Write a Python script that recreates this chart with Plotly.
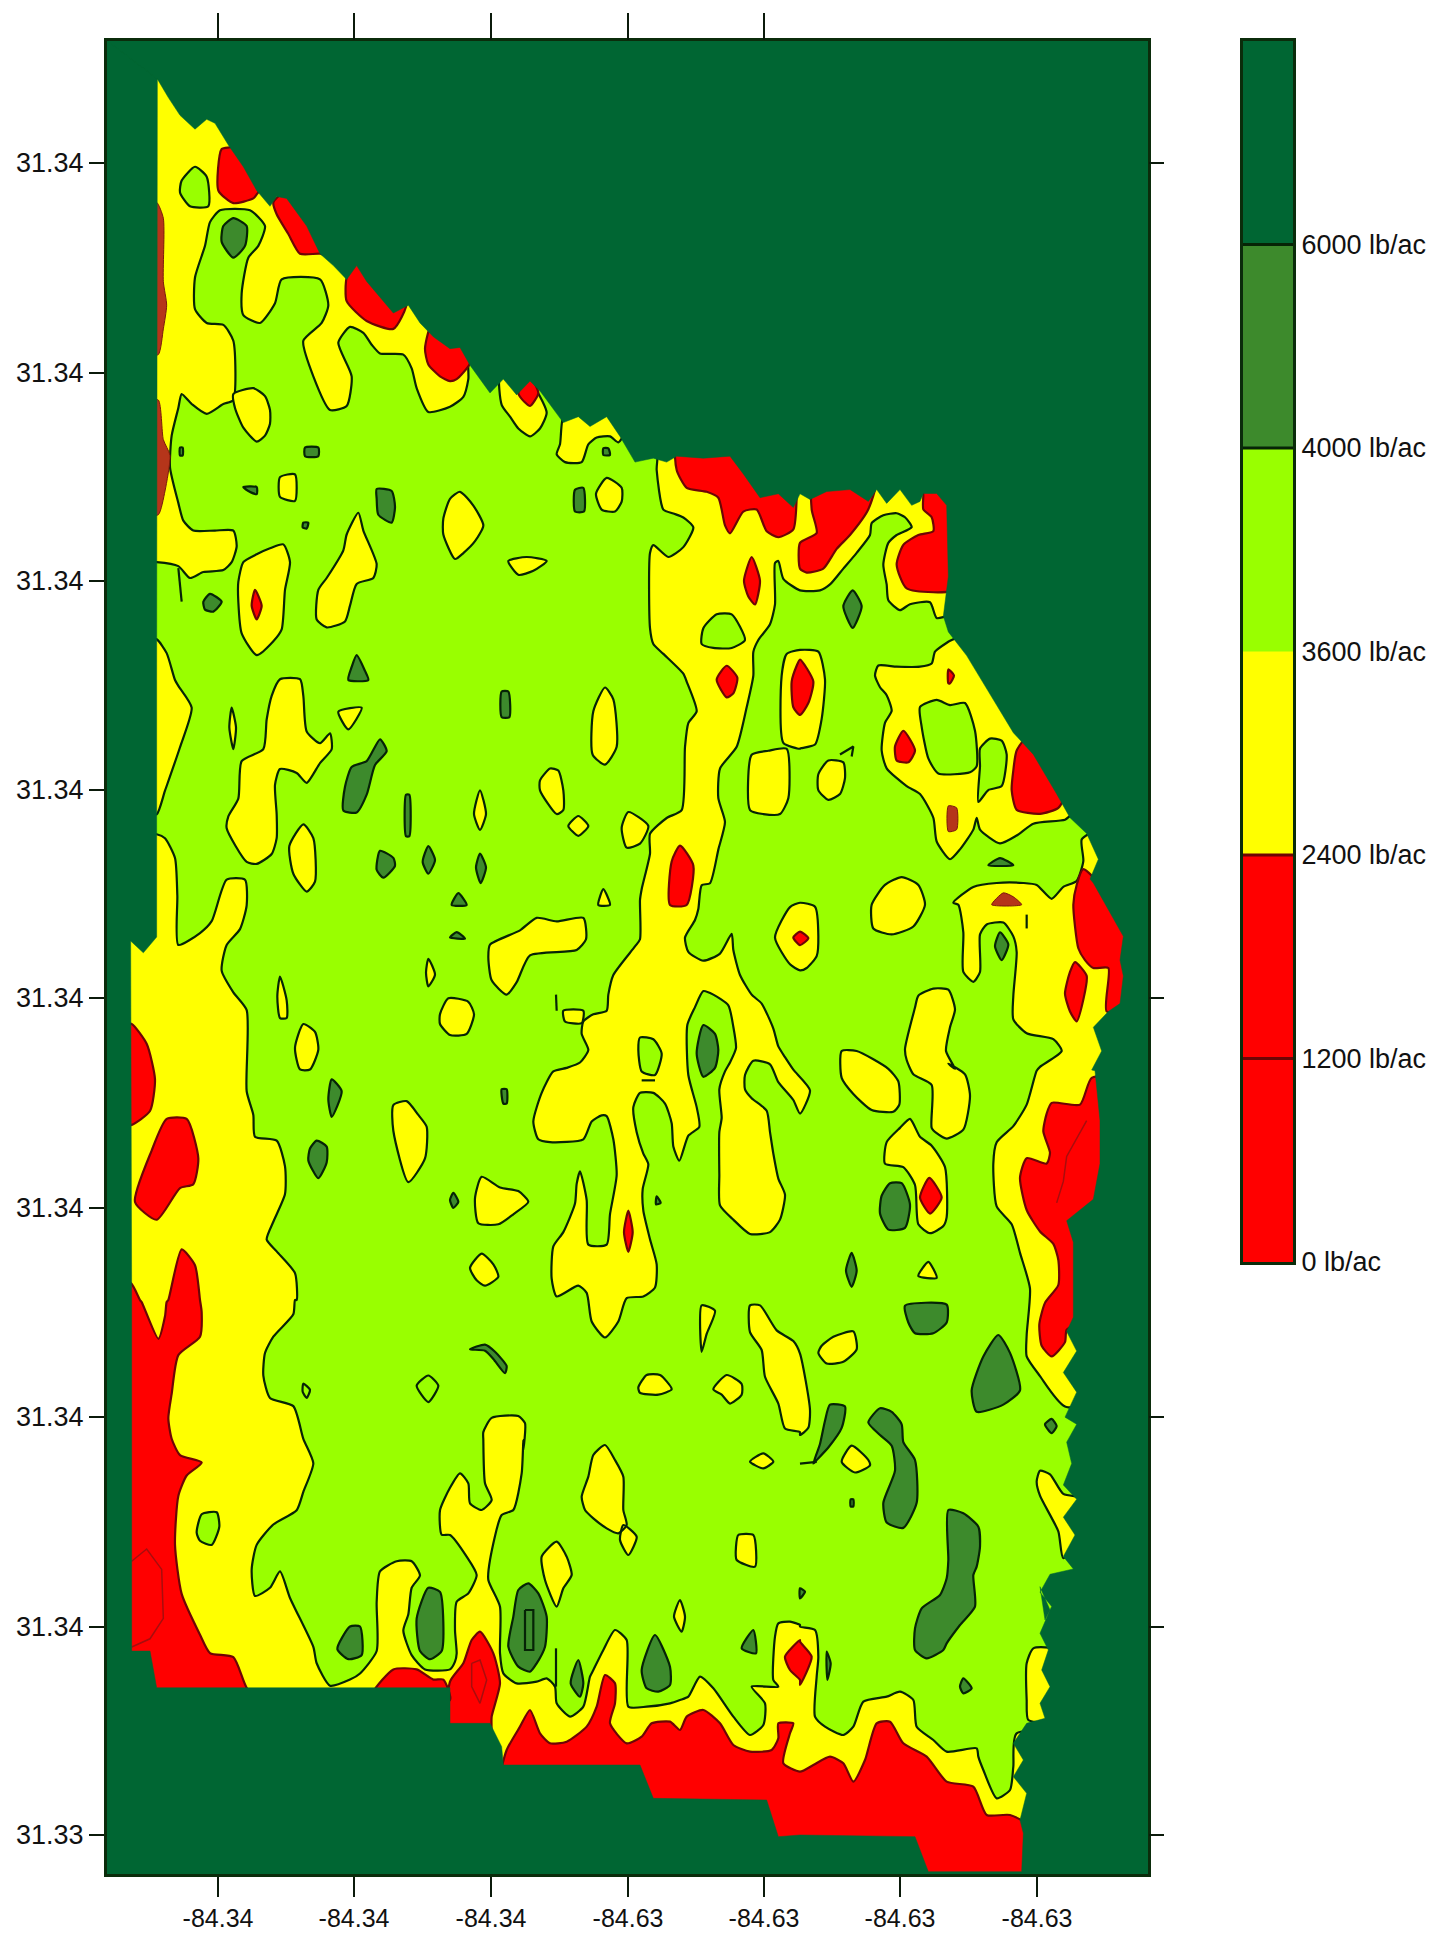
import plotly.graph_objects as go

# Digitising sheets of the map: origin and sheet units per map unit
SHEETS = {
    "A": (100, 60, 3, 2.529), "B": (450, 300, 3, 2.529), "C": (800, 450, 3, 2.529),
    "D": (100, 680, 3, 2.529), "E": (450, 900, 3, 2.8), "F": (800, 1060, 3, 2.8),
    "G": (100, 1300, 3, 2.45), "H": (450, 1440, 3, 3), "I": (800, 1500, 3, 3),
}

x_tick_vals = [218, 354, 491, 628, 764, 900, 1037]
x_tick_text = ["-84.34", "-84.34", "-84.34", "-84.63", "-84.63", "-84.63", "-84.63"]
top_tick_vals = [218, 354, 491, 628, 764]
y_tick_vals = [163, 373, 581, 790, 998, 1208, 1417, 1627, 1835]
y_tick_text = ["31.34"] * 8 + ["31.33"]
right_tick_vals = [163, 998, 1417, 1627, 1835]

legend_labels = ["0 lb/ac", "1200 lb/ac", "2400 lb/ac", "3600 lb/ac", "4000 lb/ac", "6000 lb/ac"]
legend_colors = ["#ff0000", "#ff0000", "#ffff00", "#99ff00", "#3d8a2c", "#006633"]

field_outline = [
    ("A", [(172,48),(205,95),(240,140),(285,175),(320,150),(345,160),(385,215),(430,270),(470,330),(510,370),(530,345),(560,350),(620,420),(660,490),(700,520),(740,555),(770,520),(800,560),(880,640),(925,620),(960,665),(1000,700),(1050,730)]),
    ("B", [(30,120),(60,165),(120,235),(160,200),(200,240),(240,205),(270,230),(340,310),(385,295),(420,320),(470,295),(510,345),(555,410),(610,400),(650,410),(680,395),(760,400),(840,395),(880,440),(930,500),(985,490),(1030,525),(1050,490)]),
    ("C", [(30,125),(80,105),(150,100),(205,130),(230,100),(260,135),(300,100),(335,140),(360,130),(370,110),(410,110),(440,140),(445,320),(430,420),(445,460),(500,520),(640,715),(700,770),(770,870),(810,930),(860,970),(895,1035),(870,1085),(880,1095),(970,1230),(960,1290),(970,1330),(960,1400),(925,1420),(880,1460),(905,1520),(875,1568)]),
    ("F", [(885,30),(900,170),(900,290),(880,390),(800,450),(820,510),(820,590),(820,720),(800,760),(830,815),(790,875),(830,930),(795,1000),(830,1020),(800,1070),(815,1130),(790,1190),(830,1230),(790,1280),(825,1330),(790,1390),(820,1425),(750,1440),(720,1490),(755,1530),(735,1568)]),
    ("I", [(720,260),(750,330),(720,400),(745,450),(725,510),(750,560),(720,610),(735,655),(680,670),(640,730),(670,780),(640,830),(680,880),(660,960),(670,1000),(665,1115),(385,1115),(345,1010),(0,1005)]),
    ("H", [(985,1190),(950,1080),(610,1075),(570,975),(160,975),(155,920),(120,850),(0,850)]),
    ("G", [(1050,950),(170,950),(150,860),(95,860),(95,0)]),
    ("D", [(92,660),(130,690),(170,650),(170,0)]),
]

green_main = [
    ("A", [(400,860),(370,870),(320,895),(275,870),(245,845),(235,880),(215,950),(210,1030),(235,1120),(250,1165),(280,1190),(345,1190),(400,1190),(410,1230),(395,1270),(370,1290),(310,1295),(270,1310),(235,1280),(170,1270),(130,1270),(130,1460),(170,1465),(200,1500),(225,1568)]),
    ("D", [(235,15),(275,70),(240,170),(195,280),(170,340),(140,340),(140,390),(170,390),(195,400),(225,450),(232,545),(235,670),(300,640),(335,610),(380,505),(435,505),(440,570),(420,630),(380,670),(365,735),(400,790),(440,835),(440,1040),(460,1100),(465,1155),(530,1165),(555,1230),(555,1300),(520,1370),(500,1415),(530,1445),(585,1500),(590,1568)]),
    ("G", [(585,0),(580,35),(520,90),(495,130),(490,185),(510,240),(580,260),(610,340),(640,400),(610,470),(590,515),(520,550),(470,600),(455,660),(465,725),(510,705),(540,665),(570,730),(640,850),(650,890),(690,945),(750,930),(780,915),(830,860),(830,740),(840,665),(890,640),(935,640),(960,675),(935,705),(925,770),(910,810),(935,870),(975,905),(1050,905)]),
    ("H", [(15,665),(20,640),(15,570),(20,485),(55,460),(80,405),(50,350),(0,285)]),
    ("G", [(1025,575),(1020,515),(1050,460)]),
    ("H", [(30,100),(55,130),(60,190),(95,210),(125,180),(105,130),(100,0)]),
    ("E", [(100,1490),(125,1450),(205,1445),(225,1465),(220,1540)]),
    ("H", [(220,0),(215,100),(190,210),(155,225),(120,360),(115,420),(150,500),(150,640),(160,700),(200,730),(260,725),(290,715),(315,740),(320,790),(360,830),(400,800),(420,710),(430,690),(460,630),(495,570),(530,600),(535,800),(590,800),(660,790),(690,780),(715,770),(750,710),(790,745),(850,830),(900,885),(940,855),(945,790),(905,740),(985,740),(970,720),(975,590),(985,550),(1020,545),(1050,555)]),
    ("I", [(0,380),(45,390),(55,470),(50,530),(45,650),(75,680),(130,705),(160,680),(190,605),(260,590),(300,575),(340,600),(350,680),(400,720),(440,755),(530,745),(535,770),(550,810),(590,895),(630,870),(640,800),(650,700),(1100,700)]),
    ("F", [(1100,970),(795,970),(720,885),(680,830),(680,770),(690,640),(660,540),(635,460),(590,410),(580,290),(590,230),(640,185),(680,125),(710,30)]),
    ("C", [(720,1560),(785,1520),(760,1490),(680,1475),(640,1440),(640,1380),(650,1270),(640,1230),(610,1195),(560,1200),(540,1225),(540,1320),(520,1345),(490,1320),(490,1220),(475,1150),(460,1145),(520,1105),(590,1095),(670,1095),(710,1100),(755,1135),(790,1105),(830,1090),(850,1040),(845,985),(880,960),(820,920),(795,935),(700,945),(650,975),(600,995),(540,960),(530,930),(520,960),(480,1010),(450,1035),(410,990),(400,930),(360,870),(320,850),(260,805),(245,760),(255,690),(275,660),(260,620),(240,600),(225,570),(235,545),(290,548),(360,548),(395,540),(405,510),(445,485),(475,470),(450,420),(410,425),(390,385),(330,390),(300,405),(265,380),(260,340),(250,290),(265,235),(290,215),(335,195),(315,170),(290,160),(250,165),(215,185),(210,215),(170,260),(130,300),(90,340),(60,355),(0,355)]),
    ("B", [(1000,705),(985,660),(975,665),(975,770),(960,820),(925,860),(910,890),(910,950),(890,1030),(860,1130),(810,1185),(805,1260),(825,1320),(805,1390),(780,1475),(755,1480),(745,1540),(735,1568)]),
    ("E", [(705,105),(715,145),(760,170),(810,150),(845,95),(850,140),(870,210),(905,265),(935,290),(970,360),(985,410),(1005,440),(1030,475)]),
    ("F", [(30,85),(0,150)]),
    ("E", [(1030,560),(985,510),(960,460),(910,450),(885,490),(885,530),(905,555),(950,590),(960,650),(970,710),(985,780),(1005,825),(990,895),(960,930),(900,935),(850,895),(810,855),(808,770),(808,650),(815,610),(808,530),(825,480),(840,455),(858,415),(850,355),(835,295),(790,265),(760,255),(735,300),(712,350),(715,490),(740,580),(748,635),(715,660),(688,730),(670,690),(665,625),(645,570),(610,540),(570,540),(550,580),(560,650),(580,710),(595,740),(578,810),(580,870),(600,950),(620,1020),(615,1085),(580,1110),(530,1115),(505,1180),(465,1225),(425,1180),(410,1100),(385,1080),(320,1110),(305,1060),(310,970),(340,930),(375,850),(380,795),(390,760),(410,840),(415,965),(470,965),(480,880),(500,770),(490,670),(470,605),(455,603),(425,620),(400,670),(300,678),(265,670),(250,620),(275,540),(310,480),(350,470),(390,455),(415,420),(395,375),(400,340),(430,320),(470,310),(475,265),(490,210),(555,130),(570,110),(570,0)]),
    ("B", [(575,1490),(600,1400),(600,1350),(650,1310),(695,1290),(705,1130),(715,1070),(740,1040),(710,965),(700,945),(640,895),(610,870),(600,830),(600,640),(610,620),(655,650),(700,625),(730,575),(700,550),(670,540),(640,530),(620,430),(620,370),(300,170),(60,130),(55,200),(40,245),(0,270)]),
    ("A", [(985,890),(950,830),(935,780),(910,745),(840,742),(815,720),(790,690),(750,675),(715,715),(755,800),(740,875),(690,885),(640,800),(610,710),(665,665),(685,620),(660,555),(545,555),(525,615),(480,665),(430,645),(425,590),(445,500),(475,470),(495,420),(450,380),(360,380),(330,410),(315,470),(285,550),(285,630),(320,665),(370,670),(400,710)]),
]

yellow_islands = [
    [("A", [(400,845),(460,830),(495,850),(510,885),(510,920),(495,950),(470,965),(430,930),(405,880)])],
    [("A", [(540,1055),(585,1048),(585,1115),(540,1105)])],
    [("A", [(430,1270),(470,1250),(510,1235),(550,1225),(570,1270),(555,1340),(545,1440),(520,1470),(470,1505),(425,1450),(415,1370),(415,1320)])],
    [("A", [(740,1200),(775,1145),(790,1190),(830,1275),(820,1310),(770,1325),(750,1380),(735,1420),(680,1435),(650,1415),(655,1340),(680,1310),(730,1240)])],
    [("D", [(515,40),(540,-2),(600,-2),(610,40),(620,130),(660,160),(690,135),(695,175),(660,210),(620,260),(590,235),(540,225),(525,265),(530,340),(530,400),(515,440),(470,465),(440,460),(380,375),(385,345),(415,300),(425,205),(490,175),(500,100)])],
    [("D", [(715,80),(785,70),(745,125)])],
    [("D", [(395,70),(408,120),(400,175),(388,120)])],
    [("D", [(610,365),(640,400),(645,510),(620,535),(580,490),(568,420)])],
    [("D", [(985,705),(1005,745),(985,775),(978,740)])],
    [("D", [(1020,845),(1045,805)]), ("E", [(55,285),(72,320),(50,375),(0,378)]), ("D", [(1020,870)])],
    [("D", [(540,750),(560,810),(560,855),(540,855),(532,800)])],
    [("D", [(610,870),(645,890),(655,935),(630,985),(600,985),(585,930)])],
    [("D", [(880,1075),(920,1065),(955,1100),(980,1130),(975,1210),(925,1270),(880,1140)])],
    [("B", [(155,265),(180,295),(205,325),(240,345),(270,325),(290,285),(260,230),(205,180),(150,190)])],
    [("B", [(345,280),(330,365),(320,390),(345,410),(395,410),(415,365),(440,348),(480,345),(505,360),(520,340),(470,280)])],
    [("B", [(470,450),(515,475),(515,510),(495,535),(455,530),(438,490)])],
    [("A", [(1030,1160),(1050,1110)]), ("B", [(30,485),(70,520),(100,570),(75,610),(40,640),(15,655)]), ("A", [(1030,1200)])],
    [("B", [(175,660),(230,650),(290,660),(250,685),(205,695)])],
    [("B", [(465,980),(490,1010),(500,1130),(465,1175),(428,1150),(430,1040)])],
    [("B", [(300,1185),(325,1190),(340,1240),(340,1290),(320,1300),(270,1240),(270,1215)])],
    [("B", [(90,1240),(108,1300),(90,1340),(72,1300)])],
    [("B", [(385,1305),(415,1330),(385,1355),(355,1330)])],
    [("B", [(535,1295),(595,1330),(570,1375),(530,1385),(515,1335)])],
    [("B", [(460,1490),(480,1530),(445,1530)])],
    [("B", [(995,950),(1010,895),(1050,885)]), ("C", [(55,510),(75,580),(65,680),(45,745),(0,755)]), ("B", [(1050,1135),(1000,1120)])],
    [("B", [(905,1150),(955,1140),(1010,1135),(1015,1260),(990,1300),(940,1300),(900,1290)])],
    [("C", [(85,785),(130,790),(135,830),(120,870),(85,885),(55,860),(55,820)])],
    [("C", [(215,1150),(255,1100),(305,1080),(355,1100),(375,1150),(340,1205),(275,1225),(220,1210)])],
    [("E", [(1020,20),(975,105),(1020,180),(1050,197)]), ("C", [(20,1310),(50,1280),(55,1230),(45,1155),(0,1145)])],
    [("C", [(355,1380),(400,1362),(445,1365),(465,1415),(450,1460),(438,1520),(465,1565)]), ("F", [(445,10),(495,40),(510,100),(490,195),(440,220),(410,205),(395,190),(395,70),(340,40),(320,0)]), ("C", [(315,1515),(345,1410)])],
    [("C", [(125,1520),(170,1520),(265,1565)]), ("F", [(295,60),(298,125),(280,145),(215,140),(160,95),(125,50)])],
    [("F", [(330,165),(360,215),(395,240),(435,300),(440,440),(430,465),(390,485),(355,460),(345,350),(310,300),(255,290),(260,230),(300,190)])],
    [("F", [(385,565),(410,610),(355,605)])],
    [("F", [(65,800),(100,775),(160,760),(170,810),(130,845),(80,850),(55,820)])],
    [("F", [(125,1125),(155,1080),(205,1120),(210,1135),(165,1155)])],
    [("F", [(720,1150),(750,1160),(790,1215),(860,1230),(860,1330),(790,1395),(775,1320),(720,1220),(710,1180)])],
    [("I", [(700,445),(770,450),(770,660),(685,660),(680,600),(680,490)])],
    [("H", [(465,15),(495,60),(520,110),(520,210),(530,255),(505,280),(470,265),(430,235),(405,210),(395,170),(415,110),(430,45)])],
    [("H", [(520,255),(560,290),(535,345),(510,300)])],
    [("H", [(320,305),(350,350),(365,405),(340,445),(320,500),(285,420),(275,350)])],
    [("H", [(690,480),(705,530),(695,575),(672,530)])],
    [("H", [(865,285),(910,285),(915,380),(860,360),(858,320)])],
    [("H", [(900,65),(940,40),(970,65),(940,85)])],
    [("E", [(75,835),(95,775),(150,805),(205,815),(235,845),(190,880),(145,908),(85,905)])],
    [("E", [(60,1030),(95,990),(130,1020),(145,1055),(105,1080),(80,1065)])],
    [("E", [(565,1365),(590,1330),(630,1330),(665,1370),(625,1385),(570,1380)])],
    [("E", [(790,1370),(830,1330),(875,1355),(875,1385),(840,1410),(815,1385)])],
    [("E", [(755,1135),(795,1150),(770,1215),(755,1265)])],
    [("E", [(900,1135),(930,1135),(980,1205),(1030,1235),(1050,1270)]), ("F", [(30,980),(25,1030),(0,1050)]), ("E", [(1050,1490),(1005,1480),(985,1410),(945,1335),(935,1260),(900,1210)])],
    [("E", [(120,125),(210,85),(260,50),(320,60),(400,50),(408,110),(380,140),(240,155),(200,230),(170,265),(125,225),(115,160)])],
    [("E", [(340,310),(400,310),(395,345),(345,340)])],
]

green_holes = [
    [("A", [(285,270),(320,295),(325,370),(270,370),(240,335),(245,305)])],
    [("B", [(760,830),(800,795),(845,795),(885,860),(845,880),(790,880),(755,870)])],
    [("C", [(360,650),(410,632),(450,645),(495,640),(525,710),(530,800),(510,815),(415,818),(385,780),(365,700)])],
    [("C", [(540,755),(570,730),(605,735),(620,770),(605,850),(565,860),(535,890),(540,800)])],
    [("E", [(570,385),(610,390),(635,430),(615,490),(575,480),(565,420)])],
    [("G", [(305,525),(350,520),(358,555),(335,600),(300,590),(290,570)])],
    [("G", [(610,205),(630,220),(620,240),(608,225)])],
    [("G", [(950,210),(985,185),(1015,210),(985,250)])],
]

red_areas = [
    [("A", [(365,225),(395,220),(440,200),(500,300),(470,340),(460,350),(400,362),(355,330)])],
    [("A", [(520,360),(545,340),(640,400),(700,500),(660,490),(600,490),(565,440),(530,390)])],
    [("A", [(740,550),(775,500),(920,610),(880,680),(800,660),(740,610)])],
    [("A", [(975,730),(1000,660)]), ("B", [(60,110),(60,160),(20,200),(0,205)]), ("A", [(1020,800),(985,770)])],
    [("B", [(205,235),(235,190),(265,235),(240,268),(215,250)])],
    [("A", [(465,1340),(485,1380),(470,1415),(455,1380)])],
    [("B", [(680,430),(710,475),(770,485),(805,500),(825,570),(840,590),(880,535),(920,530),(950,585),(985,600),(1030,580),(1040,500),(1040,440),(680,370)])],
    [("B", [(905,650),(930,710),(915,770),(895,750),(882,710)])],
    [("B", [(830,925),(862,955),(850,995),(830,1005),(800,960)])],
    [("B", [(690,1380),(730,1430),(710,1530),(660,1530),(665,1420)])],
    [("C", [(0,530),(40,585),(25,640),(0,670)]), ("B", [(1030,1030),(1025,965),(1040,925)])],
    [("C", [(0,235),(50,210),(35,150),(40,60),(230,60),(205,150),(150,215),(110,250),(70,300),(20,310),(0,300)])],
    [("C", [(370,115),(370,80),(480,80),(480,350),(320,350),(290,290),(310,240),(355,215),(400,205),(395,170),(370,150)])],
    [("C", [(650,760),(690,720),(800,860),(775,905),(720,920),(650,910),(635,860),(640,810)])],
    [("C", [(310,710),(345,760),(325,790),(290,785),(285,750)])],
    [("C", [(445,555),(462,570),(450,590),(445,590)])],
    [("C", [(0,1218),(25,1235),(0,1252)]), ("E", [(1030,105)])],
    [("C", [(830,1100),(850,1060),(1010,1230),(1010,1400),(920,1420),(925,1310),(880,1310),(855,1290),(835,1260),(820,1150)])],
    [("C", [(825,1295),(860,1330),(850,1390),(830,1445),(810,1420),(795,1375),(810,1320)])],
    [("F", [(755,120),(840,125),(875,50),(960,50),(960,290),(920,390),(860,440),(860,720),(800,755),(795,790),(755,830),(725,800),(718,740),(735,680),(775,630),(775,560),(760,515),(720,480),(680,420),(660,330),(680,275),(740,290),(750,260),(730,200),(740,150)])],
    [("F", [(388,330),(425,385),(390,430),(360,385)])],
    [("D", [(95,870),(140,920),(165,1010),(150,1090),(95,1125),(70,1125),(70,870)])],
    [("D", [(200,1110),(260,1110),(295,1210),(280,1275),(240,1285),(170,1365),(105,1320),(155,1190)])],
    [("D", [(205,1568),(245,1440),(285,1480),(300,1568)]), ("G", [(305,30),(300,90),(235,135),(215,230),(205,290),(215,340),(240,380),(305,398),(260,430),(235,480),(225,600),(245,720),(300,820),(330,865),(400,875),(440,950),(500,1000),(40,1000),(40,200)]), ("D", [(40,1525),(92,1525),(120,1568)]), ("G", [(125,5),(175,95),(195,40),(200,5)])],
    [("G", [(820,960),(880,905),(950,905),(1000,930),(1030,930),(1050,980),(820,980)])],
    [("H", [(90,575),(130,640),(150,730),(125,830),(120,900),(0,900),(0,725),(40,670),(65,600)])],
    [("H", [(150,1010),(170,930),(210,860),(240,810),(270,880),(300,910),(350,905),(410,860),(440,800),(465,705),(495,730),(495,790),(480,850),(530,910),(575,890),(605,850),(660,845),(690,870),(710,830),(760,810),(810,850),(850,915),(900,935),(965,930),(985,895),(985,850),(1030,850),(1020,880),(1000,970),(1050,995)]),
     ("I", [(40,795),(90,770),(130,790),(160,845),(195,780),(230,670),(270,665),(310,730),(380,770),(440,845),(520,860),(560,945),(630,945),(720,1000),(720,1150),(0,1150)]), ("H", [(150,1250)])],
    [("H", [(1050,600),(1005,650),(1020,690),(1050,720)]), ("I", [(0,555),(35,470),(0,425)])],
    [("E", [(535,870),(548,930),(535,985),(522,930)])],
]

edge_brown = [
    [("A", [(170,360),(190,400),(190,560),(200,620),(190,680),(175,745),(140,745),(140,360)])],
    [("A", [(175,860),(190,960),(210,1000),(195,1090),(175,1150),(140,1150),(140,860)])],
    [("C", [(445,900),(470,905),(470,960),(445,965)])],
    [("C", [(575,1150),(610,1120),(640,1130),(665,1150)])],
]

mid_spots = [
    [("A", [(370,420),(400,400),(440,420),(435,470),(400,500),(365,460)])],
    [("A", [(615,980),(655,980),(655,1002),(615,1002)])],
    [("A", [(430,1080),(470,1080),(470,1098),(445,1090)])],
    [("A", [(610,1170),(625,1170),(620,1185),(608,1182)])],
    [("A", [(240,980),(248,980),(248,1000),(240,1000)])],
    [("A", [(830,1085),(875,1090),(885,1130),(875,1170),(835,1150),(830,1110)])],
    [("A", [(310,1370),(330,1350),(365,1370),(340,1395),(315,1390)])],
    [("A", [(770,1505),(795,1545),(805,1568),(745,1568),(755,1535)])],
    [("D", [(840,150),(860,180),(825,215),(800,290),(770,335),(730,330),(735,270),(755,220),(800,205)])],
    [("D", [(918,290),(928,290),(928,395),(918,395)])],
    [("D", [(840,432),(880,450),(885,470),(850,500),(830,480)])],
    [("D", [(985,420),(1005,455),(985,490),(968,460)])],
    [("D", [(695,1010),(725,1040),(695,1105),(685,1060)])],
    [("D", [(650,1165),(680,1180),(680,1220),(655,1260),(625,1215),(630,1185)])],
    [("B", [(460,375),(475,375),(480,392),(460,392)])],
    [("B", [(375,480),(400,475),(402,535),(375,535)])],
    [("B", [(155,990),(175,990),(178,1055),(155,1055)])],
    [("B", [(90,1400),(108,1435),(92,1475),(78,1435)])],
    [("B", [(25,1500),(50,1530),(5,1530)])],
    [("E", [(0,105),(20,90),(45,108)])],
    [("E", [(10,820),(25,845),(10,862),(0,840)])],
    [("E", [(155,530),(170,530),(170,570),(160,570)])],
    [("E", [(620,830),(632,848),(618,852)])],
    [("E", [(60,1258),(105,1245),(135,1265),(170,1305),(165,1325),(130,1285),(105,1262)])],
    [("E", [(760,350),(795,375),(805,420),(795,470),(760,495),(740,430)])],
    [("C", [(158,355),(185,395),(158,450),(130,395)])],
    [("C", [(565,1050),(600,1032),(640,1050)])],
    [("C", [(600,1220),(625,1250),(605,1290),(585,1255)])],
    [("F", [(270,345),(305,345),(330,405),(315,470),(265,475),(240,430),(245,380)])],
    [("F", [(155,540),(170,590),(155,635),(138,590)])],
    [("F", [(315,688),(440,685),(440,735),(400,765),(345,765),(325,735)])],
    [("F", [(595,770),(630,820),(660,925),(610,965),(530,985),(515,925),(550,830)])],
    [("F", [(755,1005),(770,1025),(755,1045),(735,1020)])],
    [("F", [(90,965),(135,970),(125,1030),(85,1085),(50,1120),(40,1130),(60,1075),(75,1010)])],
    [("F", [(205,1015),(240,975),(275,985),(305,1020),(310,1070),(345,1120),(350,1240),(310,1310),(260,1295),(250,1240),(285,1150),(275,1080),(240,1050)])],
    [("F", [(152,1230),(160,1230),(160,1250),(152,1250)])],
    [("I", [(445,30),(490,40),(535,80),(540,140),(530,200),(520,225),(525,320),(480,375),(440,430),(430,450),(380,475),(345,450),(345,385),(365,325),(420,285),(440,235),(445,180)])],
    [("I", [(0,265),(15,275),(0,295)])],
    [("I", [(490,535),(515,565),(490,580),(480,560)])],
    [("I", [(80,455),(92,490),(82,540)])],
    [("H", [(235,430),(265,460),(290,530),(285,620),(260,670),(240,695),(205,680),(175,620),(190,530),(205,450)])],
    [("H", [(385,660),(400,730),(390,770),(362,730)])],
    [("H", [(615,585),(660,680),(660,735),(625,755),(590,745),(575,690)])],
    [("H", [(910,570),(918,640),(875,625)])],
    [("G", [(750,800),(780,800),(785,870),(745,880),(712,855)])],
    [("G", [(985,705),(1020,715),(1030,790),(1025,860),(990,880),(960,860),(950,780)])],
]

loose_contours = [
    [("A", [(235,1285),(245,1370)])],
    [("H", [(318,625),(318,740)])],
    [("H", [(225,510),(225,630),(250,630),(250,510),(225,510)])],
    [("C", [(120,770),(160,750),(155,775)])],
    [("C", [(680,1175),(680,1210)])],
    [("F", [(0,1130),(50,1125)])],
    [("E", [(318,265),(320,310)])],
    [("E", [(575,505),(615,505)])],
]

red_inner_lines = [
    [("G", [(95,640),(140,610),(185,660),(190,780),(150,830),(95,850)])],
    [("H", [(65,670),(90,660),(110,720),(90,790),(65,740),(65,670)])],
    [("F", [(860,170),(800,270),(790,340),(770,400)])],
]


def to_map(segments):
    xs, ys = [], []
    for sheet, pts in segments:
        ox, oy, sx, sy = SHEETS[sheet]
        for px, py in pts:
            xs.append(ox + px / sx)
            ys.append(oy + py / sy)
    return xs, ys


def layer(regions, fill, line_color, width=2.2):
    xs, ys = [], []
    for segments in regions:
        a, b = to_map(segments)
        xs += a + [a[0], None]
        ys += b + [b[0], None]
    return go.Scatter(x=xs, y=ys, mode="lines", fill="toself", fillcolor=fill,
                      line=dict(color=line_color, width=width, simplify=False,
                                shape="spline", smoothing=0.6),
                      hoverinfo="skip", showlegend=False)


CONTOUR = "#062406"
X_RANGE = [107, 1148]
Y_RANGE = [1874, 41]
PAGE_W, PAGE_H, BODY = 1447, 1942, 8
W, H = PAGE_W - 2 * BODY, PAGE_H - 2 * BODY

fig = go.Figure()
fig.add_trace(layer([green_main], "#99ff00", CONTOUR))
fig.add_trace(layer(yellow_islands, "#ffff00", CONTOUR))
fig.add_trace(layer(green_holes, "#99ff00", CONTOUR))
fig.add_trace(layer(red_areas, "#ff0000", "#6d0505"))
fig.add_trace(layer(edge_brown, "#b5351a", "#7a1a0a", 1))
fig.add_trace(layer(mid_spots, "#3d8a2c", CONTOUR))
for regions, colour, w in ((loose_contours, CONTOUR, 2.2), (red_inner_lines, "#a80d0d", 1.5)):
    xs, ys = [], []
    for segments in regions:
        a, b = to_map(segments)
        xs += a + [None]
        ys += b + [None]
    fig.add_trace(go.Scatter(x=xs, y=ys, mode="lines", line=dict(color=colour, width=w),
                             hoverinfo="skip", showlegend=False))

# outside-the-field mask, field outline is a keyhole in the plot rectangle
fx, fy = to_map(field_outline)
mask_x = [80, 80, 1180, 1180, 80] + [fx[0]] + fx + [fx[0], 80]
mask_y = [20, 1900, 1900, 20, 20] + [fy[0]] + fy + [fy[0], 20]
fig.add_trace(go.Scatter(x=mask_x, y=mask_y, mode="lines", fill="toself", fillcolor="#006633",
                         line=dict(color="#006633", width=0.5, simplify=False),
                         hoverinfo="skip", showlegend=False))

# axes that only carry the top and right tick marks
fig.add_trace(go.Scatter(x=[None], y=[None], xaxis="x2", yaxis="y2", showlegend=False, hoverinfo="skip"))

# legend column
for i, colour in enumerate(legend_colors):
    fig.add_trace(go.Bar(x=[0.5], y=[1], base=[i], width=[1], marker=dict(color=colour, line=dict(width=0)),
                         xaxis="x3", yaxis="y3", showlegend=False, hoverinfo="skip"))
for level, colour in ((1, "#6d0505"), (2, "#6d0505"), (4, CONTOUR), (5, CONTOUR)):
    fig.add_trace(go.Scatter(x=[0, 1], y=[level, level], mode="lines", line=dict(color=colour, width=3),
                             xaxis="x3", yaxis="y3", showlegend=False, hoverinfo="skip"))

xd = [(X_RANGE[0] - BODY) / W, (X_RANGE[1] - BODY) / W]
yd = [1 - (Y_RANGE[0] - BODY) / H, 1 - (Y_RANGE[1] - BODY) / H]
FONT = dict(family="Liberation Sans, Arial, sans-serif", size=27, color="#111111")
X_FONT = dict(FONT, size=25)
AX = dict(showgrid=False, zeroline=False, ticks="outside", tickwidth=2, tickcolor="#0b1a0b",
          linecolor="#0b2c0b", linewidth=3, fixedrange=True, tickmode="array", automargin=False)

fig.update_layout(
    width=W, height=H, autosize=False, paper_bgcolor="white", plot_bgcolor="#ffff00",
    margin=dict(l=0, r=0, t=0, b=0, pad=0), barmode="overlay", showlegend=False, font=FONT,
    xaxis=dict(AX, domain=xd, range=X_RANGE, tickvals=x_tick_vals, ticktext=x_tick_text, ticklen=20,
               tickfont=X_FONT, showline=True, mirror=True, anchor="y"),
    yaxis=dict(AX, domain=yd, range=Y_RANGE, tickvals=y_tick_vals, ticktext=y_tick_text, ticklen=15,
               tickfont=FONT, showline=True, mirror=True, anchor="x"),
    xaxis2=dict(AX, overlaying="x", side="top", range=X_RANGE, tickvals=top_tick_vals,
                ticktext=[""] * len(top_tick_vals), ticklen=27, anchor="y2", showline=False),
    yaxis2=dict(AX, overlaying="y", side="right", range=Y_RANGE, tickvals=right_tick_vals,
                ticktext=[""] * len(right_tick_vals), ticklen=15, anchor="x2", showline=False),
    xaxis3=dict(domain=[(1243 - BODY) / W, (1293 - BODY) / W], range=[0, 1], showticklabels=False, ticks="",
                showgrid=False, zeroline=False, showline=True, mirror=True, linecolor="#0b2c0b",
                linewidth=3, anchor="y3", fixedrange=True, automargin=False),
    yaxis3=dict(domain=[1 - (1262 - BODY) / H, 1 - (41 - BODY) / H], range=[0, 6], side="right",
                tickmode="array", tickvals=[0, 1, 2, 3, 4, 5], ticktext=legend_labels, ticks="",
                tickfont=FONT, showgrid=False, zeroline=False, showline=True, mirror=True,
                linecolor="#0b2c0b", linewidth=3, anchor="x3", fixedrange=True, automargin=False),
)

fig.write_html("out.html")
